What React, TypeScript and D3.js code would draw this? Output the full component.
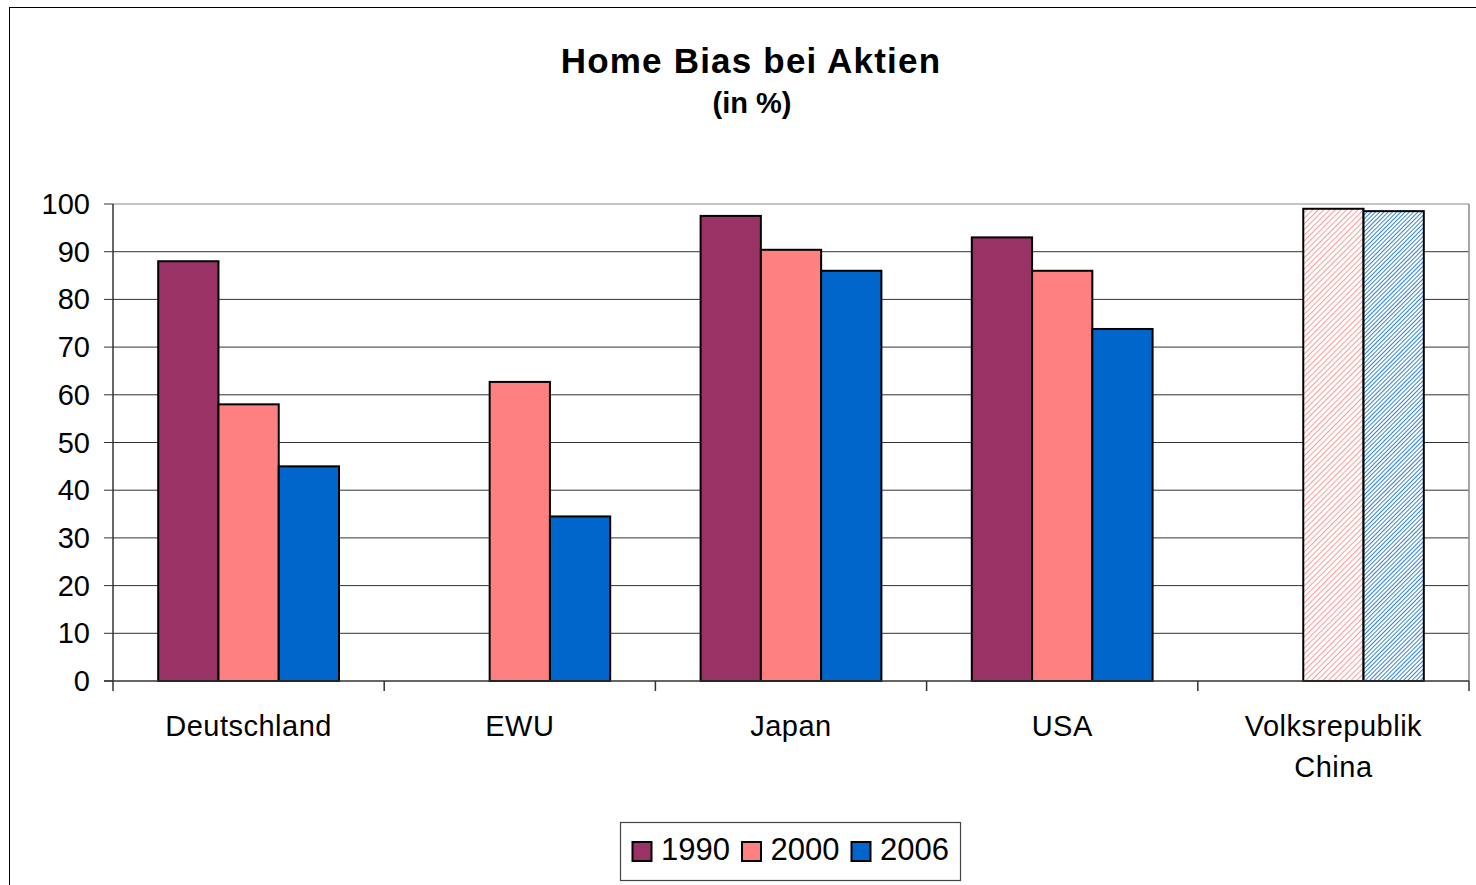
import React from 'react';
import * as d3 from 'd3';

const categories = ['Deutschland', 'EWU', 'Japan', 'USA', 'Volksrepublik China'];
const seriesNames = ['1990', '2000', '2006'];
const values1990: (number | null)[] = [88, null, 97.5, 93, null];
const values2000: (number | null)[] = [58, 62.7, 90.4, 86, 99];
const values2006: (number | null)[] = [45, 34.5, 86, 73.8, 98.5];
const yTicks = [0, 10, 20, 30, 40, 50, 60, 70, 80, 90, 100];
// China has estimated values, drawn hatched
const hatchedCategory = 'Volksrepublik China';

const colors = ['#993366', '#FF8080', '#0066CC'];
const font = 'Arial, "Liberation Sans", sans-serif';

const W = 1476;
const H = 885;
const plot = { left: 113, right: 1469, top: 204, bottom: 681 };

const App: React.FC = () => {
  const allSeries = [values1990, values2000, values2006];

  const x = d3.scaleBand<string>()
    .domain(categories)
    .range([plot.left, plot.right])
    .paddingInner(0)
    .paddingOuter(0);

  const xSub = d3.scaleBand<string>()
    .domain(seriesNames)
    .range([0, x.bandwidth()])
    .paddingInner(0)
    .paddingOuter(0.75);

  const y = d3.scaleLinear().domain([0, 100]).range([plot.bottom, plot.top]);

  const boundaries = categories.map(c => x(c)!).concat([plot.right]);

  return (
    <svg width={W} height={H} style={{ position: 'absolute', left: 0, top: 0, background: '#fff' }}>
      <defs>
        <pattern id="hatch-pink" width="4" height="4" patternUnits="userSpaceOnUse" patternTransform="rotate(45)">
          <rect width="4" height="4" fill="#fff" />
          <line x1="0" y1="0" x2="0" y2="4" stroke="#FF8080" strokeWidth="1.6" />
        </pattern>
        <pattern id="hatch-blue" width="3" height="3" patternUnits="userSpaceOnUse" patternTransform="rotate(45)">
          <rect width="3" height="3" fill="#fff" />
          <line x1="0" y1="0" x2="0" y2="3" stroke="#0066CC" strokeWidth="1.6" />
        </pattern>
      </defs>

      {/* chart border */}
      <rect x={9.5} y={7.5} width={W + 20} height={H + 20} fill="none" stroke="#000" strokeWidth={1} />

      {/* title */}
      <text x={751} y={73} textAnchor="middle" fontFamily={font} fontWeight="bold" fontSize={35} letterSpacing={1.2}>
        Home Bias bei Aktien
      </text>
      <text x={752} y={113} textAnchor="middle" fontFamily={font} fontWeight="bold" fontSize={29}>
        (in %)
      </text>

      {/* gridlines */}
      {yTicks.filter(t => t > 0).map(t => (
        <line key={t} x1={plot.left} x2={plot.right} y1={y(t)} y2={y(t)}
          stroke={t === 100 ? '#888' : '#333'} strokeWidth={1} />
      ))}
      <line x1={plot.right} x2={plot.right} y1={plot.top} y2={plot.bottom} stroke="#888" strokeWidth={1.5} />

      {/* bars */}
      {categories.map((c, ci) => (
        <g key={c}>
          {seriesNames.map((s, si) => {
            const v = allSeries[si][ci];
            if (v == null) return null;
            const bx = x(c)! + xSub(s)!;
            let fill = colors[si];
            if (c === hatchedCategory) fill = si === 1 ? 'url(#hatch-pink)' : 'url(#hatch-blue)';
            return (
              <rect key={s} x={bx} y={y(v)} width={xSub.bandwidth()} height={y(0) - y(v)}
                fill={fill} stroke="#000" strokeWidth={2} />
            );
          })}
        </g>
      ))}

      {/* y axis */}
      <line x1={plot.left} x2={plot.left} y1={plot.top} y2={plot.bottom} stroke="#333" strokeWidth={1.5} />
      {yTicks.map(t => (
        <g key={t}>
          <line x1={plot.left - 9} x2={plot.left} y1={y(t)} y2={y(t)} stroke="#333" strokeWidth={1} />
          <text x={90} y={y(t) + 10} textAnchor="end" fontFamily={font} fontSize={29}>{t}</text>
        </g>
      ))}

      {/* x axis */}
      <line x1={plot.left - 9} x2={plot.right} y1={plot.bottom} y2={plot.bottom} stroke="#333" strokeWidth={1.5} />
      {boundaries.map((b, i) => (
        <line key={i} x1={b} x2={b} y1={plot.bottom} y2={plot.bottom + 10} stroke="#333" strokeWidth={1.5} />
      ))}
      {categories.map(c => {
        const lines = c === 'Volksrepublik China' ? ['Volksrepublik', 'China'] : [c];
        return (
          <text key={c} x={x(c)! + x.bandwidth() / 2} y={736} textAnchor="middle" fontFamily={font} fontSize={29} letterSpacing={0.5}>
            {lines.map((l, i) => (
              <tspan key={l} x={x(c)! + x.bandwidth() / 2} dy={i === 0 ? 0 : 41}>{l}</tspan>
            ))}
          </text>
        );
      })}

      {/* legend */}
      <rect x={620.5} y={822.5} width={340} height={58} fill="#fff" stroke="#444" strokeWidth={1.2} />
      {seriesNames.map((s, i) => (
        <g key={s} transform={`translate(${632 + i * 109.5},0)`}>
          <rect x={0.5} y={842} width={19} height={19} fill={colors[i]} stroke="#000" strokeWidth={2} />
          <text x={29} y={860} fontFamily={font} fontSize={31}>{s}</text>
        </g>
      ))}
    </svg>
  );
};

export default App;
